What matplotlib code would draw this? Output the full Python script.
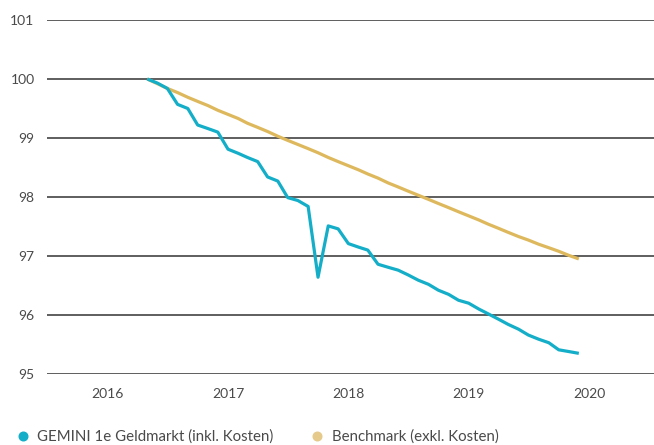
import matplotlib
matplotlib.use("Agg")
import matplotlib.pyplot as plt
from matplotlib.lines import Line2D
import pandas as pd

months = pd.date_range("2016-05-01", "2019-12-01", freq="MS")

gemini = [100.00, 99.93, 99.84, 99.57, 99.50, 99.22, 99.16, 99.10, 98.81, 98.74,
          98.67, 98.60, 98.34, 98.27, 97.99, 97.94, 97.84, 96.64, 97.51, 97.46,
          97.21, 97.15, 97.10, 96.86, 96.81, 96.76, 96.68, 96.59, 96.52, 96.42,
          96.35, 96.25, 96.20, 96.10, 96.02, 95.93, 95.84, 95.76, 95.66, 95.59,
          95.53, 95.41, 95.38, 95.35]

benchmark = [100.00, 99.92, 99.84, 99.77, 99.69, 99.62, 99.55, 99.47, 99.40, 99.33,
             99.25, 99.18, 99.11, 99.03, 98.96, 98.89, 98.82, 98.75, 98.67, 98.60,
             98.53, 98.46, 98.39, 98.32, 98.24, 98.17, 98.10, 98.03, 97.96, 97.89,
             97.82, 97.75, 97.68, 97.61, 97.54, 97.47, 97.40, 97.33, 97.27, 97.20,
             97.14, 97.08, 97.01, 96.95]

series_labels = ["GEMINI 1e Geldmarkt (inkl. Kosten)", "Benchmark (exkl. Kosten)"]
year_ticks = ["2016", "2017", "2018", "2019", "2020"]
y_ticks = [95, 96, 97, 98, 99, 100, 101]

teal = "#14AEC8"
gold = "#DEB85C"
gold_legend = "#E5CA8C"
text_col = "#4a4a4a"

plt.rcParams["font.family"] = ["Lato", "DejaVu Sans"]

W, H = 654, 445
fig = plt.figure(figsize=(W/100, H/100), dpi=100)
ax = fig.add_axes([47/W, 1-374/H, 1-47/W, (374-20)/H])

ax.plot(months, benchmark, color=gold, lw=2.3, solid_capstyle="butt", zorder=3)
ax.plot(months, gemini, color=teal, lw=2.3, solid_capstyle="butt", zorder=4)

ax.set_ylim(95, 101)
ax.set_yticks(y_ticks)
ax.set_yticklabels([str(v) for v in y_ticks])
xt = [pd.Timestamp(f"{y}-01-01") for y in year_ticks]
ax.set_xticks(xt)
ax.set_xticklabels(year_ticks)
ax.set_xlim(pd.Timestamp("2015-07-02"), pd.Timestamp("2020-07-16"))

ax.grid(axis="y", color="#333333", lw=1.1, zorder=1)
ax.grid(axis="x", visible=False)
for s in ax.spines.values():
    s.set_visible(False)
ax.tick_params(axis="both", length=0, labelsize=10, colors=text_col)
ax.tick_params(axis="y", pad=9)
ax.tick_params(axis="x", pad=10)
ax.set_axisbelow(True)

fs = 10.8
fpx = fs * 100 / 72
for lbl, col, cx in [(series_labels[0], teal, 22.7), (series_labels[1], gold_legend, 317)]:
    h = Line2D([], [], ls="none", marker="o", ms=6.2, color=col, mec=col)
    hl = 0.6
    x0 = cx - hl * fpx / 2
    leg = fig.legend([h], [lbl], loc="center left", bbox_to_anchor=(x0/W, 1-437/H),
                     frameon=False, fontsize=fs, handlelength=hl,
                     handletextpad=(37.3 - 22.7 - hl*fpx/2)/fpx,
                     labelcolor=text_col, borderaxespad=0, borderpad=0)

fig.savefig("out.png", dpi=100)
